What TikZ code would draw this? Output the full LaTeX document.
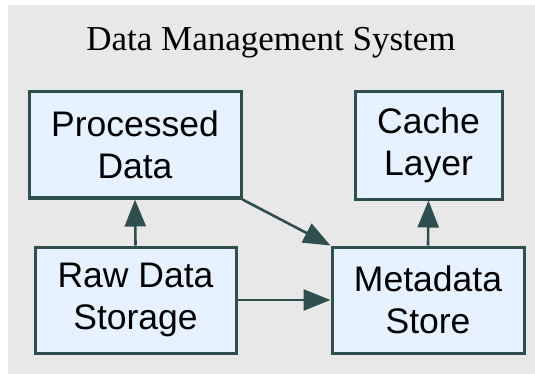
\documentclass[tikz,border=0pt]{standalone}
\usepackage{fontspec}
\setmainfont{Liberation Serif}
\newfontfamily\boxfont{Liberation Sans}
\usetikzlibrary{arrows.meta}

\definecolor{panelgray}{HTML}{E8E8E8}
\definecolor{boxfill}{HTML}{E6F2FF}
\definecolor{slate}{HTML}{2F4F4F}

\tikzset{
  store/.style={draw=slate, line width=3pt, fill=boxfill, rectangle,
    inner sep=0pt, align=center, text=black,
    font=\boxfont\fontsize{35.5}{42}\selectfont},
  flow/.style={draw=slate, line width=2.6pt,
    -{Triangle[length=27pt,width=21pt]}}
}

\begin{document}
\begin{tikzpicture}[x=1pt,y=-1pt]
  \useasboundingbox (0,0) rectangle (535,374);
  % panel behind the diagram
  \fill[panelgray] (8,5) rectangle (535,374);

  \node[font=\fontsize{35}{42}\selectfont, anchor=base] (title) at (271,51) {Data Management System};

  \node[store, minimum width=212pt, minimum height=106pt] (proc) at (135,145) {Processed\\Data};
  \node[store, minimum width=147pt, minimum height=107pt] (cache) at (428.5,145.5) {Cache\\Layer};
  \node[store, minimum width=201pt, minimum height=106pt] (raw) at (135.5,300) {Raw Data\\Storage};
  \node[store, minimum width=192pt, minimum height=106pt] (meta) at (428,300) {Metadata\\Store};

  \draw[flow] (raw.north) -- (proc.south);
  \draw[flow] (meta.north) -- (cache.south);
  \draw[flow] (raw.east) -- (meta.west);
  \draw[flow] (proc.south east) -- (meta.north west);
\end{tikzpicture}
\end{document}
